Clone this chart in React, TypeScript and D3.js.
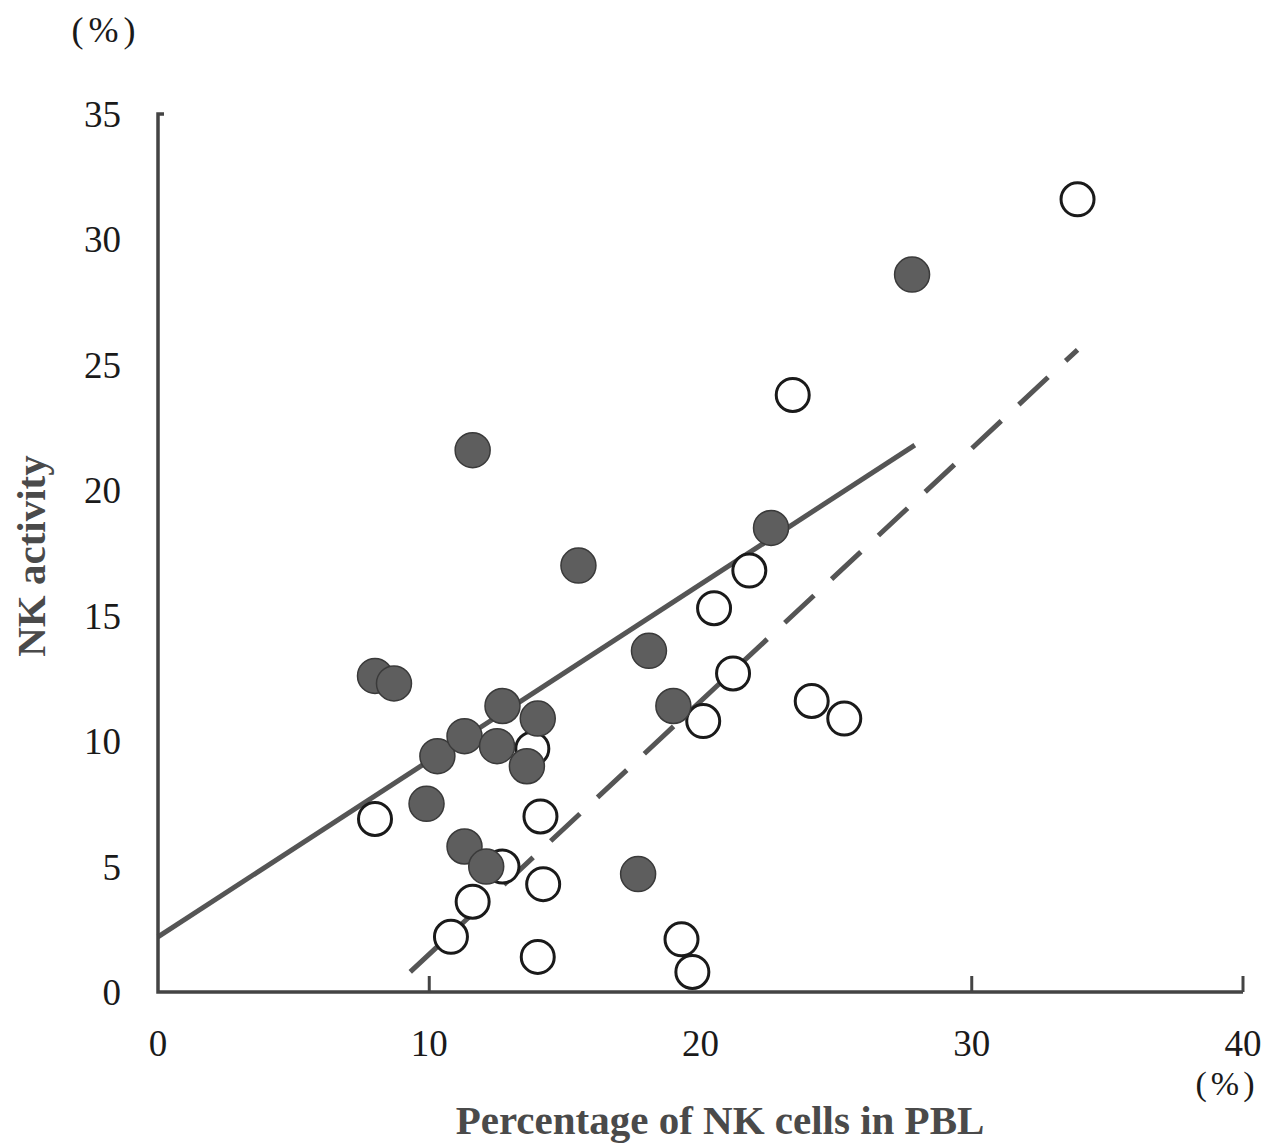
import { useEffect, useRef } from 'react'
import * as d3 from "d3";

// filled circles (x = % NK cells, y = NK activity)
const filledX = [27.8, 11.6, 15.5, 22.6, 18.1, 19.0, 8.0, 8.7, 12.7, 14.0, 10.3, 11.3, 12.5, 13.6, 9.9, 11.3, 12.1, 17.7];
const filledY = [28.6, 21.6, 17.0, 18.5, 13.6, 11.4, 12.6, 12.3, 11.4, 10.9, 9.4, 10.2, 9.8, 9.0, 7.5, 5.8, 5.0, 4.7];

// open circles
const openX = [33.9, 23.4, 21.8, 20.5, 21.2, 24.1, 25.3, 20.1, 13.8, 8.0, 14.1, 12.7, 11.6, 10.8, 14.2, 14.0, 19.3, 19.7];
const openY = [31.6, 23.8, 16.8, 15.3, 12.7, 11.6, 10.9, 10.8, 9.7, 6.9, 7.0, 5.0, 3.6, 2.2, 4.3, 1.4, 2.1, 0.8];

// regression lines [x, y] end points
const solidLine: [number, number][] = [[0, 2.2], [27.9, 21.8]];
const dashedLine: [number, number][] = [[9.3, 0.8], [33.9, 25.6]];

const xTicks = [0, 10, 20, 30, 40];
const xTickMarks = [10, 30, 40];
const yTicks = [0, 5, 10, 15, 20, 25, 30, 35];

export default function App() {
   const ref = useRef<SVGSVGElement>(null);

   const width = 1286;
   const height = 1147;

   useEffect(() => {
      const svg = d3.select(ref.current);
      svg.selectAll("*").remove();

      const xScale = d3.scaleLinear().domain([0, 40]).range([158, 1243]);
      const yScale = d3.scaleLinear().domain([0, 35]).range([992, 114]);
      const font = "'Liberation Serif', 'Times New Roman', serif";

      // lines
      const line = d3.line<[number, number]>()
         .x((d) => xScale(d[0]))
         .y((d) => yScale(d[1]));

      svg.append("path")
         .attr("d", line(solidLine))
         .attr("stroke", "#555")
         .attr("stroke-width", 5)
         .attr("fill", "none");

      svg.append("path")
         .attr("d", line(dashedLine))
         .attr("stroke", "#555")
         .attr("stroke-width", 5)
         .attr("stroke-dasharray", "40 24")
         .attr("fill", "none");

      // axes
      const x0 = xScale(0);
      const y0 = yScale(0);
      svg.append("path")
         .attr("d", `M${x0 + 6},${yScale(35)} H${x0} V${y0} H${xScale(40)}`)
         .attr("stroke", "#444")
         .attr("stroke-width", 3.5)
         .attr("fill", "none");

      svg.selectAll(".xtick")
         .data(xTickMarks)
         .enter()
         .append("line")
         .attr("x1", (d) => xScale(d))
         .attr("x2", (d) => xScale(d))
         .attr("y1", y0)
         .attr("y2", y0 - 16)
         .attr("stroke", "#444")
         .attr("stroke-width", 3);

      // open circles
      svg.selectAll(".open")
         .data(openX)
         .enter()
         .append("circle")
         .attr("cx", (d) => xScale(d))
         .attr("cy", (d, i) => yScale(openY[i]))
         .attr("r", 16.5)
         .attr("fill", "white")
         .attr("stroke", "#1a1a1a")
         .attr("stroke-width", 3);

      // filled circles
      svg.selectAll(".filled")
         .data(filledX)
         .enter()
         .append("circle")
         .attr("cx", (d) => xScale(d))
         .attr("cy", (d, i) => yScale(filledY[i]))
         .attr("r", 17.5)
         .attr("fill", "#5e5e5e")
         .attr("stroke", "#3a3a3a")
         .attr("stroke-width", 1.5);

      // tick labels
      svg.selectAll(".xlabel")
         .data(xTicks)
         .enter()
         .append("text")
         .attr("x", (d) => xScale(d))
         .attr("y", 1056)
         .attr("text-anchor", "middle")
         .style("font-family", font)
         .style("font-size", "37px")
         .attr("fill", "#1a1a1a")
         .text((d) => d);

      svg.selectAll(".ylabel")
         .data(yTicks)
         .enter()
         .append("text")
         .attr("x", 121)
         .attr("y", (d) => yScale(d) + 13)
         .attr("text-anchor", "end")
         .style("font-family", font)
         .style("font-size", "37px")
         .attr("fill", "#1a1a1a")
         .text((d) => d);

      // units
      svg.append("text")
         .attr("x", 106)
         .attr("y", 42)
         .attr("text-anchor", "middle")
         .style("font-family", font)
         .style("font-size", "36px")
         .style("letter-spacing", "5px")
         .attr("fill", "#1a1a1a")
         .text("(%)");

      svg.append("text")
         .attr("x", 1227)
         .attr("y", 1095)
         .attr("text-anchor", "middle")
         .style("font-family", font)
         .style("font-size", "34px")
         .style("letter-spacing", "4px")
         .attr("fill", "#1a1a1a")
         .text("(%)");

      // axis titles
      svg.append("text")
         .attr("x", 720)
         .attr("y", 1134)
         .attr("text-anchor", "middle")
         .style("font-family", font)
         .style("font-size", "41px")
         .style("font-weight", "bold")
         .attr("fill", "#4a4a4a")
         .text("Percentage of NK cells in PBL");

      svg.append("text")
         .attr("transform", "translate(45, 556) rotate(-90)")
         .attr("text-anchor", "middle")
         .style("font-family", font)
         .style("font-size", "41px")
         .style("font-weight", "bold")
         .attr("fill", "#4a4a4a")
         .text("NK activity");
   }, []);

   return (
      <svg ref={ref} width={width} height={height} style={{ position: "absolute", left: 0, top: 0, background: "white" }} />
   )
}
